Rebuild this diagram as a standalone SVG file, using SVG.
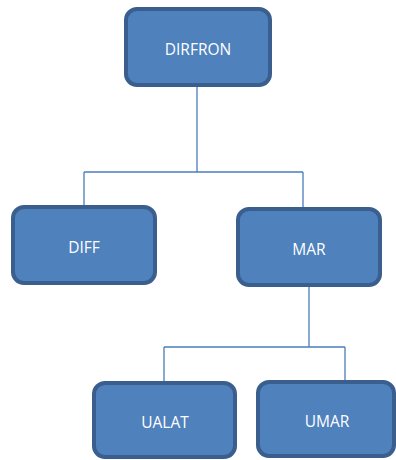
<svg xmlns="http://www.w3.org/2000/svg" width="396" height="460" viewBox="0 0 396 460">
<style>
.box{fill:#4F81BD;stroke:#3A5F8E;stroke-width:4}
.lbl{fill:#FFFFFF;font-family:"Open Sans","Liberation Sans",sans-serif;font-size:15.5px;text-anchor:middle;dominant-baseline:central}
.con{fill:none;stroke:#4A7EBB;stroke-width:1.3}
</style>
<rect width="396" height="460" fill="#FFFFFF"/>
<g id="connectors">
<path class="con" d="M197,86 V172 M84,172 H303 M84,172 V206 M303,172 V214"/>
<path class="con" d="M309,287 V347 M164,347 H345 M164,347 V382 M345,347 V384"/>
</g>
<g id="DIRFRON"><rect class="box" x="126" y="9" width="144" height="76" rx="11"/><text class="lbl" x="198" y="49">DIRFRON</text></g>
<g id="DIFF"><rect class="box" x="13" y="207" width="142" height="76" rx="11"/><text class="lbl" x="84" y="247">DIFF</text></g>
<g id="MAR"><rect class="box" x="238" y="209" width="142" height="76" rx="11"/><text class="lbl" x="309" y="249">MAR</text></g>
<g id="UALAT"><rect class="box" x="94" y="383" width="141" height="74" rx="11"/><text class="lbl" x="165" y="422">UALAT</text></g>
<g id="UMAR"><rect class="box" x="258" y="382" width="136" height="74" rx="11"/><text class="lbl" x="327" y="421">UMAR</text></g>
</svg>
